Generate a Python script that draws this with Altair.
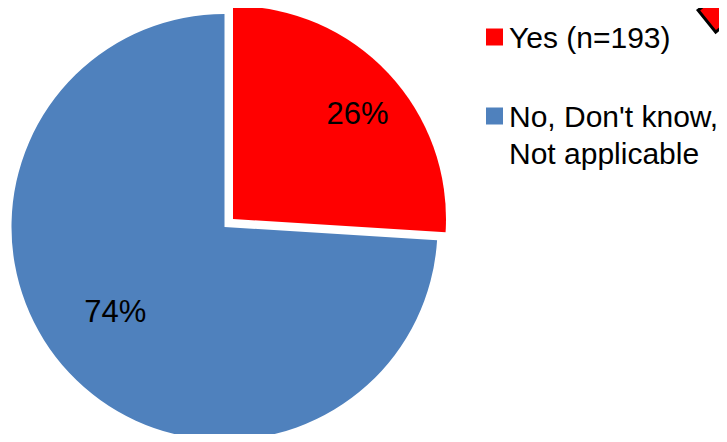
import altair as alt
import pandas as pd

labels = ["Yes (n=193)", "No, Don't know, Not applicable"]
legend_text = ["Yes (n=193)", "No, Don't know,\nNot applicable"]
values = [26, 74]
pct_labels = ["26%", "74%"]
colors = ["#FF0000", "#4F81BD"]

starts = [0, values[0]]
ends = [values[0], values[0] + values[1]]
df = pd.DataFrame({
    "label": labels,
    "legend_text": legend_text,
    "value": values,
    "pct": pct_labels,
    "start": starts,
    "end": ends,
    "mid": [(s + e) / 2 for s, e in zip(starts, ends)],
})

FONT = "Liberation Sans"
theta_scale = alt.Scale(domain=[0, 100], range=[0, 6.283185307179586])
color_enc = alt.Color("label:N", scale=alt.Scale(domain=labels, range=colors), legend=None)
legend_y = alt.Y("label:N", scale=alt.Scale(type="point", domain=labels, range=[29, 108], padding=0), axis=None)

base = alt.Chart(df)
yes = base.transform_filter(alt.datum.label == labels[0])
no = base.transform_filter(alt.datum.label == labels[1])

red_arc = yes.mark_arc(radius=213).encode(
    theta=alt.Theta("start:Q", scale=theta_scale),
    theta2="end:Q",
    color=color_enc,
    x=alt.value(225),
    y=alt.value(211),
)
blue_arc = no.mark_arc(radius=213).encode(
    theta=alt.Theta("start:Q", scale=theta_scale),
    theta2="end:Q",
    color=color_enc,
    x=alt.value(216.5),
    y=alt.value(219),
)
red_txt = yes.mark_text(radius=162.5, font=FONT, fontSize=31, color="black", dx=6, dy=7).encode(
    theta=alt.Theta("mid:Q", scale=theta_scale),
    text="pct:N",
    x=alt.value(225),
    y=alt.value(211),
)
blue_txt = no.mark_text(radius=139, font=FONT, fontSize=31, color="black", dx=-8, dy=-9).encode(
    theta=alt.Theta("mid:Q", scale=theta_scale),
    text="pct:N",
    x=alt.value(216.5),
    y=alt.value(219),
)
legend_sym = base.mark_square(size=289, opacity=1, filled=True).encode(
    x=alt.value(486.5),
    y=legend_y,
    color=color_enc,
)
legend_lbl = base.mark_text(
    font=FONT, fontSize=30, color="black", align="left", baseline="alphabetic",
    dy=11, lineBreak="\n", lineHeight=37,
).encode(
    x=alt.value(501),
    y=legend_y,
    text="legend_text:N",
)
arrow = yes.mark_point(
    shape="M-1,-0.35L1,-0.35L1,0.35L-1,0.35Z",
    filled=True,
    fill="#FF0000",
    stroke="black",
    strokeWidth=3,
    opacity=1,
    size=6400,
    angle=321,
).encode(x=alt.value(730), y=alt.value(-12))

chart = alt.layer(blue_arc, red_arc, red_txt, blue_txt, legend_sym, legend_lbl, arrow).properties(
    width=711, height=426, padding=0, autosize="none"
).configure_view(stroke=None)

chart.save("out.html", embed_options={"renderer": "svg", "actions": False})
